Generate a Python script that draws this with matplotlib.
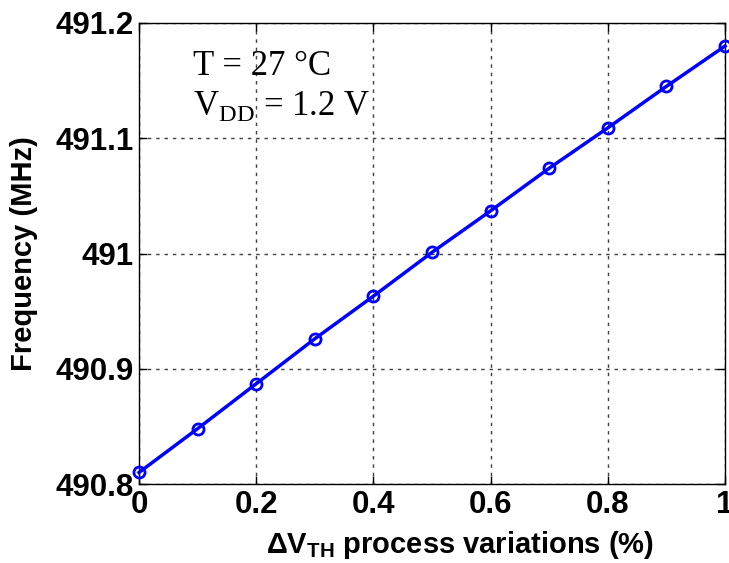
import numpy as np
import matplotlib
matplotlib.use('Agg')
import matplotlib.pyplot as plt

plt.rcParams['font.family'] = ['Liberation Sans', 'DejaVu Sans']
plt.rcParams['mathtext.fontset'] = 'custom'
plt.rcParams['mathtext.rm'] = 'Liberation Serif'
plt.rcParams['mathtext.bf'] = 'Liberation Sans:bold'

# data
dvth = [0.0, 0.1, 0.2, 0.3, 0.4, 0.5, 0.6, 0.7, 0.8, 0.9, 1.0]
freq = [490.810, 490.848, 490.887, 490.926, 490.963, 491.001,
        491.037, 491.074, 491.109, 491.145, 491.180]
xticks = [0, 0.2, 0.4, 0.6, 0.8, 1]
xtick_labels = ['0', '0.2', '0.4', '0.6', '0.8', '1']
yticks = [490.8, 490.9, 491.0, 491.1, 491.2]
ytick_labels = ['490.8', '490.9', '491', '491.1', '491.2']

fig = plt.figure(figsize=(7.29, 5.63), dpi=100)
ax = fig.add_axes([139/729, 1-484/563, (725-139)/729, (484-23)/563])

ax.plot(dvth, freq, color='#0000ff', lw=2.5, marker='o', ms=8,
        mfc='none', mec='#0000ff', mew=2, clip_on=False, zorder=3)

ax.set_xlim(0, 1)
ax.set_ylim(490.8, 491.2)
ax.set_xticks(xticks)
ax.set_xticklabels(xtick_labels)
ax.set_yticks(yticks)
ax.set_yticklabels(ytick_labels)
ax.grid(True, color='0.25', linestyle=(0, (2.5, 3.5)), linewidth=1)
ax.tick_params(direction='in', top=True, right=True, length=6, width=1,
               labelsize=22.5, pad=4)
for lab in ax.get_xticklabels() + ax.get_yticklabels():
    lab.set_fontweight('bold')
for s in ax.spines.values():
    s.set_linewidth(1)

ax.set_xlabel(r'ΔV$_{\mathbf{TH}}$ process variations (%)', fontsize=21,
              fontweight='bold')
ax.xaxis.set_label_coords(0.548, -0.098)
ax.set_ylabel('Frequency (MHz)', fontsize=21, fontweight='bold')
ax.yaxis.set_label_coords(-0.172, 0.5)

ax.text(0.093, 0.887, 'T = 27 °C', transform=ax.transAxes, fontsize=25,
        family='Liberation Serif', va='baseline', ha='left')
ax.text(0.093, 0.800, r'V$_{\rm DD}$ = 1.2 V', transform=ax.transAxes, fontsize=25,
        family='Liberation Serif', va='baseline', ha='left')

fig.savefig('out.png', dpi=100)
